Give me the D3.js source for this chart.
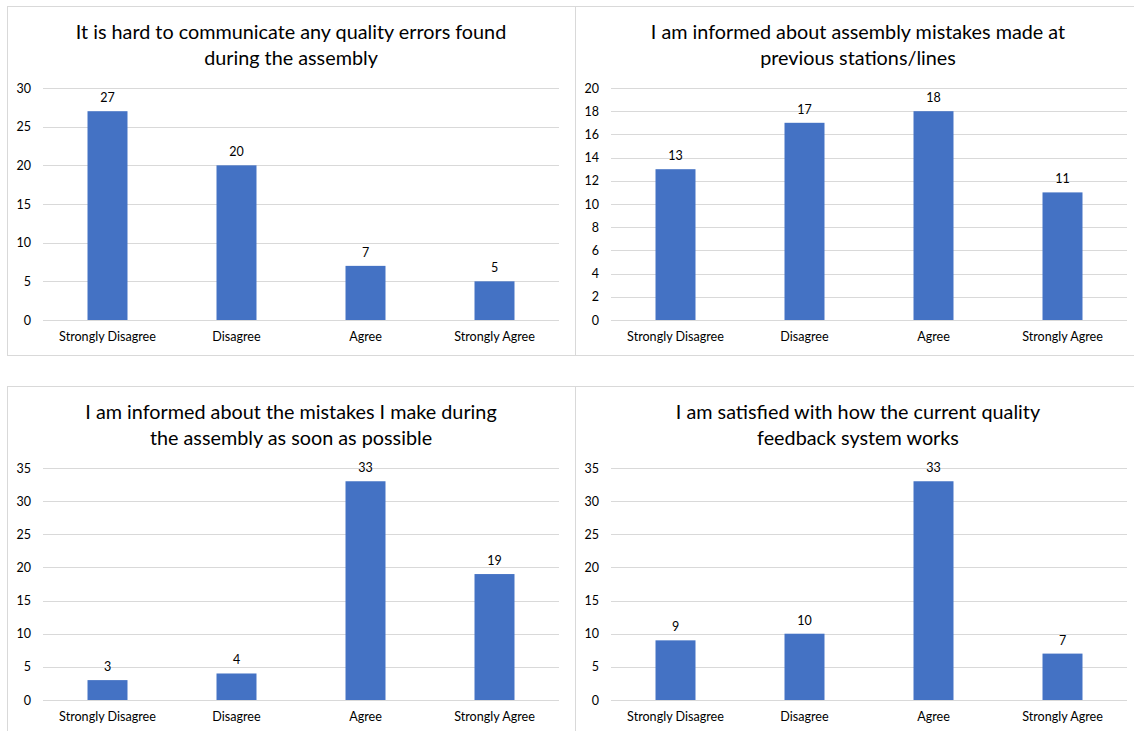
<!DOCTYPE html>
<html>
<head>
<meta charset="utf-8">
<script src="https://cdn.jsdelivr.net/npm/d3@7"></script>
<style>
  html, body { margin: 0; padding: 0; background: #ffffff; }
  svg { display: block; font-family: Lato, "Open Sans", sans-serif; }
</style>
</head>
<body>
<svg id="chart" width="1134" height="731"></svg>
<script>
// Survey answer categories shared by all four questions
const categories = ["Strongly Disagree", "Disagree", "Agree", "Strongly Agree"];

// Question titles (two lines each)
const titleCommunicate = ["It is hard to communicate any quality errors found", "during the assembly"];
const titlePrevious = ["I am informed about assembly mistakes made at", "previous stations/lines"];
const titleOwnMistakes = ["I am informed about the mistakes I make during", "the assembly as soon as possible"];
const titleSatisfied = ["I am satisfied with how the current quality", "feedback system works"];

// Response counts per category
const valuesCommunicate = [27, 20, 7, 5];
const valuesPrevious = [13, 17, 18, 11];
const valuesOwnMistakes = [3, 4, 33, 19];
const valuesSatisfied = [9, 10, 33, 7];

// Y axis ticks per chart
const ticksCommunicate = [0, 5, 10, 15, 20, 25, 30];
const ticksPrevious = [0, 2, 4, 6, 8, 10, 12, 14, 16, 18, 20];
const ticksOwnMistakes = [0, 5, 10, 15, 20, 25, 30, 35];
const ticksSatisfied = [0, 5, 10, 15, 20, 25, 30, 35];

const svg = d3.select("#chart");
const BAR = "#4472C4";
const GRID = "#d9d9d9";
const TEXT = "#000000";
const FONT = "Lato, 'Open Sans', sans-serif";

// Panel frames laid out on a 2x2 grid
const panels = [
  { title: titleCommunicate, values: valuesCommunicate, ticks: ticksCommunicate, frame: [7, 6, 568, 349] },
  { title: titlePrevious, values: valuesPrevious, ticks: ticksPrevious, frame: [575, 6, 566, 349] },
  { title: titleOwnMistakes, values: valuesOwnMistakes, ticks: ticksOwnMistakes, frame: [7, 386, 568, 360] },
  { title: titleSatisfied, values: valuesSatisfied, ticks: ticksSatisfied, frame: [575, 386, 566, 360] }
];

panels.forEach(p => {
  const [fx, fy, fw, fh] = p.frame;
  const g = svg.append("g").attr("transform", `translate(${fx},${fy})`);

  g.append("rect")
    .attr("x", 0.5).attr("y", 0.5)
    .attr("width", fw).attr("height", fh)
    .attr("fill", "#ffffff")
    .attr("stroke", GRID).attr("stroke-width", 1);

  // Title
  const title = g.append("text")
    .attr("x", fw / 2)
    .attr("text-anchor", "middle")
    .attr("fill", TEXT)
    .style("font-size", "19.8px");
  p.title.forEach((line, i) => {
    title.append("tspan").attr("x", fw / 2).attr("y", 32.5 + i * 26).text(line);
  });

  // Plot area
  const left = 36, top = 82, width = 516, height = 232;
  const plot = g.append("g").attr("transform", `translate(${left},${top})`);

  const x = d3.scaleBand().domain(categories).range([0, width]).paddingInner(0).paddingOuter(0);
  const y = d3.scaleLinear().domain([0, d3.max(p.ticks)]).range([height, 0]);

  // Horizontal gridlines
  plot.append("g")
    .selectAll("line")
    .data(p.ticks)
    .join("line")
    .attr("x1", 0).attr("x2", width)
    .attr("y1", d => Math.round(y(d)) + 0.5).attr("y2", d => Math.round(y(d)) + 0.5)
    .attr("stroke", GRID).attr("stroke-width", 1);

  // Y axis labels
  const yAxis = d3.axisLeft(y).tickValues(p.ticks).tickSize(0).tickPadding(12);
  plot.append("g").call(yAxis)
    .call(a => a.select(".domain").remove())
    .call(a => a.selectAll("text")
      .attr("fill", TEXT)
      .style("font-size", "12.5px")
      .style("font-family", FONT));

  // X axis labels
  const xAxis = d3.axisBottom(x).tickSize(0).tickPadding(12);
  plot.append("g").attr("transform", `translate(0,${height})`).call(xAxis)
    .call(a => a.select(".domain").remove())
    .call(a => a.selectAll("text")
      .attr("fill", TEXT)
      .style("font-size", "12.6px")
      .style("font-family", FONT));

  const barW = x.bandwidth() * 0.31;

  // Bars
  plot.append("g")
    .selectAll("rect")
    .data(p.values)
    .join("rect")
    .attr("x", (d, i) => x(categories[i]) + x.bandwidth() / 2 - barW / 2)
    .attr("y", d => y(d))
    .attr("width", barW)
    .attr("height", d => y(0) - y(d))
    .attr("fill", BAR);

  // Value labels
  plot.append("g")
    .selectAll("text")
    .data(p.values)
    .join("text")
    .attr("x", (d, i) => x(categories[i]) + x.bandwidth() / 2)
    .attr("y", d => y(d) - 9)
    .attr("text-anchor", "middle")
    .attr("fill", TEXT)
    .style("font-size", "12.5px")
    .text(d => d);
});
</script>
</body>
</html>
